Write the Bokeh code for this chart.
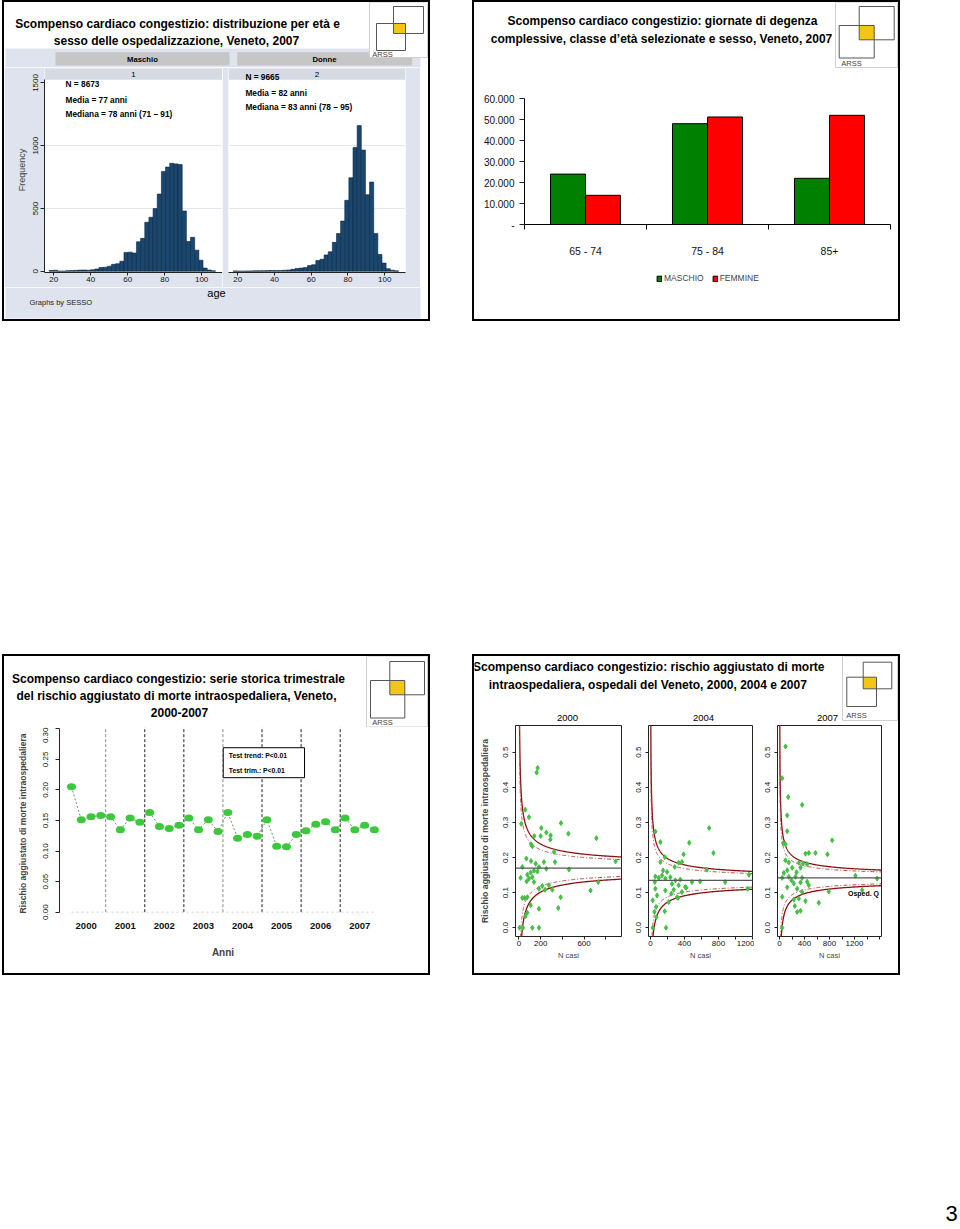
import numpy as np
from bokeh.plotting import figure
from bokeh.models import (Range1d, FixedTicker, Spacer, Legend, LegendItem, Span,
                          NumeralTickFormatter, Div)
from bokeh.layouts import column, row
from bokeh.embed import file_html
from bokeh.resources import INLINE
from bokeh.core.properties import value

SANS = "Liberation Sans"

# ======================= DATA =======================
# Slide 1 - age histogram by sex (age bins of 2.25 years from 17.5)
age_bin_start = 17.5
age_bin_width = 2.25
maschio_freq = [6, 8, 0, 0, 4, 5, 7, 9, 10, 8,
                12, 18, 30, 32, 40, 55, 60, 80, 150, 152,
                145, 235, 262, 390, 430, 500, 615, 795, 830, 860,
                855, 850, 480, 237, 270, 168, 88, 25, 10, 3]
donne_freq = [2, 0, 0, 1, 2, 3, 3, 4, 5, 6,
              5, 6, 8, 10, 15, 22, 25, 30, 45, 52,
              85, 95, 130, 155, 230, 300, 400, 565, 745, 985,
              1160, 965, 610, 710, 300, 133, 65, 20, 8, 3]
maschio_stats = ["N = 8673", "Media = 77 anni", "Mediana = 78 anni (71 \u2013 91)"]
donne_stats = ["N = 9665", "Media = 82 anni", "Mediana = 83 anni (78 \u2013 95)"]
hist_x_ticks = [20, 40, 60, 80, 100]
hist_y_ticks = [0, 500, 1000, 1500]

# Slide 2 - hospital days by age class and sex
classi_eta = ["65 - 74", "75 - 84", "85+"]
giornate_maschio = [24000, 48000, 22000]
giornate_femmine = [13900, 51200, 52000]
giornate_ticks = [0, 10000, 20000, 30000, 40000, 50000, 60000]
giornate_tick_labels = ["-", "10.000", "20.000", "30.000", "40.000", "50.000", "60.000"]

# Slide 3 - quarterly adjusted in-hospital mortality risk 2000-2007
anni = ["2000", "2001", "2002", "2003", "2004", "2005", "2006", "2007"]
rischio_trimestrale = [0.205, 0.151, 0.156, 0.158, 0.156, 0.135, 0.154, 0.147,
                       0.163, 0.140, 0.137, 0.142, 0.154, 0.135, 0.151, 0.132,
                       0.163, 0.121, 0.127, 0.124, 0.151, 0.108, 0.107, 0.127,
                       0.133, 0.144, 0.148, 0.135, 0.154, 0.135, 0.142, 0.135]
rischio_ticks = [0.0, 0.05, 0.10, 0.15, 0.20, 0.25, 0.30]

# Slide 4 - funnel plots by hospital
casi_2000 = [172, 163, 58, 92, 21, 387, 206, 252, 292, 455, 713, 141, 200, 289, 111,
             123, 323, 68, 111, 31, 154, 230, 332, 184, 252, 138, 169, 108, 77, 123,
             15, 92, 71, 461, 891, 731, 276, 215, 240, 307, 184, 384, 31, 77, 660,
             108, 77, 61, 184, 362, 5, 37, 123, 184, 52, 138]
rischio_2000 = [0.455, 0.442, 0.336, 0.315, 0.296, 0.298, 0.284, 0.271, 0.263, 0.268,
                0.255, 0.261, 0.261, 0.251, 0.238, 0.232, 0.216, 0.197, 0.190, 0.173,
                0.182, 0.187, 0.187, 0.173, 0.168, 0.163, 0.160, 0.157, 0.151, 0.144,
                0.142, 0.140, 0.132, 0.166, 0.189, 0.130, 0.121, 0.119, 0.108, 0.108,
                0.111, 0.087, 0.085, 0.087, 0.106, 0.064, 0.043, 0.033, 0.054, 0.056,
                0.0, 0.0, 0.0, 0.0, 0.085, 0.130]
casi_2004 = [58, 690, 117, 456, 390, 741, 168, 117, 331, 370, 285, 148, 663, 58, 98,
             136, 175, 234, 292, 351, 585, 878, 253, 331, 409, 58, 175, 273, 370, 1143,
             78, 245, 323, 27, 66, 47, 168, 70, 27, 183, 312, 214, 421, 195, 488,
             1158, 51]
rischio_2004 = [0.274, 0.284, 0.244, 0.242, 0.209, 0.213, 0.201, 0.187, 0.185, 0.187,
                0.173, 0.163, 0.165, 0.146, 0.142, 0.149, 0.140, 0.144, 0.135, 0.137,
                0.132, 0.130, 0.125, 0.121, 0.116, 0.111, 0.106, 0.108, 0.102, 0.111,
                0.092, 0.097, 0.085, 0.078, 0.059, 0.045, 0.047, 0.030, 0.0, 0.0,
                0.087, 0.073, 0.114, 0.159, 0.130, 0.151, 0.130]
casi_2007 = [96, 43, 139, 363, 123, 123, 842, 59, 96, 416, 469, 576, 768, 96, 149,
             309, 378, 442, 203, 336, 69, 272, 1215, 1562, 43, 149, 256, 362, 442, 336,
             229, 469, 123, 282, 789, 362, 43, 229, 309, 416, 629, 245, 336, 282, 43,
             1322, 123, 192]
rischio_2007 = [0.516, 0.426, 0.372, 0.350, 0.320, 0.275, 0.249, 0.241, 0.238, 0.211,
                0.213, 0.213, 0.209, 0.192, 0.186, 0.185, 0.183, 0.181, 0.171, 0.171,
                0.156, 0.158, 0.148, 0.140, 0.142, 0.145, 0.145, 0.142, 0.131, 0.129,
                0.126, 0.121, 0.115, 0.111, 0.103, 0.102, 0.088, 0.080, 0.083, 0.076,
                0.071, 0.062, 0.048, 0.045, 0.0, 0.107, 0.164, 0.135]
media_2000 = 0.170
media_2004 = 0.135
media_2007 = 0.142
funnel_y_ticks = [0.0, 0.1, 0.2, 0.3, 0.4, 0.5]

# ======================= STYLE / HELPERS =======================
BG1 = "#dfe3ee"
STRIP_DARK = "#c6c6c6"
STRIP_LIGHT = "#d6dae3"
NAVY = "#1a476f"
TITLE_SIZE = "12px"


def deco(x0, y0, w, h):
    """Decoration figure whose ranges are page pixel coordinates."""
    p = figure(width=w, height=h, x_range=Range1d(x0, x0 + w),
               y_range=Range1d(y0 + h, y0), output_backend="svg",
               toolbar_location=None, min_border=0, x_axis_location=None,
               y_axis_location=None, title=None, outline_line_color=None,
               background_fill_color="white", border_fill_color="white")
    p.grid.visible = False
    return p


def bar(w, h):
    return Div(text="", width=w, height=h, margin=0,
               styles={"background-color": "black"})


def framed(content_rows, w=428, h=321):
    inner = column(*[row(c) for c in content_rows])
    return column(bar(w, 2),
                  row(bar(2, h - 4), inner, bar(2, h - 4)),
                  bar(w, 2))


def txt(p, xs, ys, texts, size, font=SANS, style="normal", align="center",
        color="black", baseline="middle"):
    p.text(x=xs, y=ys, text=texts, text_font=value(font), text_font_size=size,
           text_font_style=style, text_align=align, text_baseline=baseline,
           text_color=color)


def logo(p, box, a, b, arss):
    l, t, r, bt = box
    p.quad(left=[l], right=[r], top=[t], bottom=[bt], fill_color="white",
           line_color="#cfcfcf", line_width=1)
    p.quad(left=[max(a[0], b[0])], right=[min(a[2], b[2])], top=[max(a[1], b[1])],
           bottom=[min(a[3], b[3])], fill_color="#f3c613", line_color=None)
    for s in (a, b):
        p.quad(left=[s[0]], right=[s[2]], top=[s[1]], bottom=[s[3]], fill_color=None,
               line_color="#555555", line_width=1)
    txt(p, [arss[0]], [arss[1]], ["ARSS"], "7.5px", color="#444444")


def style_axis(ax, size="8px", font=SANS):
    ax.axis_line_color = "#222222"
    ax.major_tick_line_color = "#222222"
    ax.minor_tick_line_color = None
    ax.major_tick_in = 0
    ax.major_label_text_font = font
    ax.major_label_text_font_size = size
    ax.major_label_text_color = "#111111"


# ======================= SLIDE 1 =======================
s1_head = deco(4, 2, 424, 65)
s1_head.quad(left=[5], right=[420], top=[48], bottom=[67], fill_color=BG1, line_color=None)
s1_head.quad(left=[55, 236.7], right=[229, 411.7], top=[51.7, 51.7], bottom=[65, 65],
             fill_color=STRIP_DARK, line_color=None)
txt(s1_head, [142, 324], [58.5, 58.5], ["Maschio", "Donne"], "7.7px", style="bold")
txt(s1_head, [177, 176], [23.3, 40.5],
    ["Scompenso cardiaco congestizio: distribuzione per et\u00e0 e",
     "sesso delle ospedalizzazione, Veneto, 2007"], TITLE_SIZE, style="bold")
logo(s1_head, (369, 2, 427, 57), (393, 6, 423, 33), (376, 23, 405, 50), (382, 54))


def hist_panel(width, mbl, mbr, freq, stats, stats_x, stats_y, strip_label, show_y):
    p = figure(width=width, height=220, x_range=Range1d(15, 111.3),
               y_range=Range1d(-10, 1623), min_border_left=mbl, min_border_right=mbr,
               min_border_top=0, min_border_bottom=15, output_backend="svg",
               toolbar_location=None, title=None, border_fill_color=BG1,
               background_fill_color="white", outline_line_color=None,
               y_axis_location="left" if show_y else None)
    edges = age_bin_start + age_bin_width * np.arange(len(freq) + 1)
    p.quad(left=edges[:-1], right=edges[1:], bottom=0, top=freq, fill_color=NAVY,
           line_color="#0b2640", line_width=0.6)
    p.quad(left=[15], right=[111.3], bottom=[1613], top=[1623], fill_color=BG1,
           line_color=None)
    p.quad(left=[15], right=[111.3], bottom=[1525], top=[1613], fill_color=STRIP_LIGHT,
           line_color=None)
    txt(p, [63.15], [1569], [strip_label], "8px")
    txt(p, [stats_x] * 3, stats_y, stats, "8.3px", style="bold", align="left")
    p.xgrid.visible = False
    p.ygrid.ticker = FixedTicker(ticks=[500, 1000])
    p.ygrid.grid_line_color = "#e2e7ee"
    p.xaxis.ticker = FixedTicker(ticks=hist_x_ticks)
    style_axis(p.xaxis)
    p.xaxis.major_tick_out = 3
    p.xaxis.major_label_standoff = 1
    if show_y:
        p.yaxis.ticker = FixedTicker(ticks=hist_y_ticks)
        style_axis(p.yaxis)
        p.yaxis.bounds = (-10, 1525)
        p.yaxis.major_tick_out = 4
        p.yaxis.major_label_standoff = 2
        p.yaxis.major_label_orientation = "vertical"
        p.yaxis.axis_label = "Frequency"
        p.yaxis.axis_label_text_font = SANS
        p.yaxis.axis_label_text_font_style = "normal"
        p.yaxis.axis_label_text_font_size = "9px"
        p.yaxis.axis_label_standoff = 4
    return p


h1_left = hist_panel(218, 40, 0, maschio_freq, maschio_stats, 26.4, [1488, 1368, 1254],
                     "1", True)
h1_right = hist_panel(198, 6, 15, donne_freq, donne_stats, 24.2, [1551, 1421, 1307],
                      "2", False)

s1_foot = deco(4, 287, 424, 32)
s1_foot.quad(left=[5], right=[420], top=[287], bottom=[318], fill_color=BG1,
             line_color=None)
txt(s1_foot, [216], [292.5], ["age"], "11px")
txt(s1_foot, [29], [302], ["Graphs by SESSO"], "7.5px", align="left", color="#222222")

slide1 = framed([s1_head, row(h1_left, h1_right, Spacer(width=8, height=220)), s1_foot])

# ======================= SLIDE 2 =======================
head2 = deco(474, 2, 424, 88)
txt(head2, [662, 661], [20.5, 38.5],
    ["Scompenso cardiaco congestizio: giornate di degenza",
     "complessive, classe d\u2019et\u00e0 selezionate e sesso, Veneto, 2007"],
    TITLE_SIZE, style="bold")
logo(head2, (835, 2, 897, 67), (858.7, 6, 893.7, 39.3), (838.7, 25, 873.7, 57.5),
     (851, 62.5))

chart2 = figure(width=424, height=170, x_range=Range1d(0, 3), y_range=Range1d(0, 60000),
                min_border_left=50, min_border_right=8, min_border_top=8,
                min_border_bottom=36, output_backend="svg", toolbar_location=None,
                title=None, outline_line_color=None)
pos2 = np.arange(len(classi_eta)) + 0.5
chart2.vbar(x=pos2 - 0.1435, top=giornate_maschio, width=0.287, fill_color="#008000",
            line_color="black", line_width=1)
chart2.vbar(x=pos2 + 0.1435, top=giornate_femmine, width=0.287, fill_color="#ff0000",
            line_color="black", line_width=1)
chart2.grid.visible = False
chart2.yaxis.ticker = FixedTicker(ticks=giornate_ticks)
chart2.yaxis.major_label_overrides = dict(zip(giornate_ticks, giornate_tick_labels))
style_axis(chart2.yaxis, size="10px")
chart2.yaxis.axis_line_color = "black"
chart2.yaxis.major_tick_out = 5
chart2.yaxis.major_label_standoff = 5
chart2.xaxis.ticker = FixedTicker(ticks=list(pos2),
                                  minor_ticks=list(range(len(classi_eta) + 1)))
chart2.xaxis.major_label_overrides = dict(zip(list(pos2), classi_eta))
style_axis(chart2.xaxis, size="10.5px")
chart2.xaxis.axis_line_color = "black"
chart2.xaxis.major_tick_line_color = None
chart2.xaxis.major_tick_out = 0
chart2.xaxis.minor_tick_line_color = "black"
chart2.xaxis.minor_tick_out = 5
chart2.xaxis.minor_tick_in = 0
chart2.xaxis.major_label_standoff = 15

foot2 = deco(474, 260, 424, 59)
# legend-only renderers, placed far outside the visible range
dm = foot2.vbar(x=[5000], top=[5000], bottom=[5000], width=1, fill_color="#008000",
                line_color="black")
df = foot2.vbar(x=[5000], top=[5000], bottom=[5000], width=1, fill_color="#ff0000",
                line_color="black")
leg2 = Legend(items=[LegendItem(label="MASCHIO", renderers=[dm]),
                     LegendItem(label="FEMMINE", renderers=[df])],
              orientation="horizontal", location=(182, 36), label_text_font=SANS,
              label_text_font_size="8.5px", glyph_width=6, glyph_height=7,
              label_standoff=2, spacing=8, padding=0, margin=0, label_height=10,
              border_line_color=None, background_fill_alpha=0)
foot2.add_layout(leg2)

slide2 = framed([head2, chart2, foot2])

# ======================= SLIDE 3 =======================
head3 = deco(4, 656, 424, 71)
txt(head3, [178, 176, 179], [678.3, 695.7, 711.7],
    ["Scompenso cardiaco congestizio: serie storica trimestrale",
     "del rischio aggiustato di morte intraospedaliera, Veneto,",
     "2000-2007"], TITLE_SIZE, style="bold")
logo(head3, (366, 656, 427, 726.5), (389.3, 661, 424, 694.3), (370, 680, 404.3, 717.5),
     (382, 722))

chart3 = figure(width=424, height=246, x_range=Range1d(-1.228, 32.24),
                y_range=Range1d(-0.012, 0.3021), min_border_left=55, min_border_right=42,
                min_border_top=0, min_border_bottom=54, output_backend="svg",
                toolbar_location=None, title=None, outline_line_color=None)
chart3.grid.visible = False
q3 = np.arange(len(rischio_trimestrale))
year_pos = np.arange(len(anni)) * 4 + 1.5
bounds3 = np.arange(1, len(anni)) * 4 - 0.5
bound_colors = ["#8a8a8a", "#222222", "#222222", "#8a8a8a", "#222222", "#222222", "#222222"]
chart3.segment(x0=bounds3, y0=0, x1=bounds3, y1=0.31, line_color=bound_colors,
               line_dash="3 2", line_width=1)
chart3.line(q3, np.zeros(len(q3)), line_color="#d0d0d0", line_dash="2 3", line_width=1)
chart3.line(q3, rischio_trimestrale, line_color="#6f946f", line_dash="2 2", line_width=1)
chart3.ellipse(x=q3, y=rischio_trimestrale, width=9, height=7, width_units="screen",
               height_units="screen", fill_color="#3cc83c", line_color=None)
chart3.quad(left=[15.53], right=[23.85], bottom=[0.220], top=[0.269], fill_color="white",
            line_color="black", line_width=1)
txt(chart3, [16.1, 16.1], [0.2563, 0.232], ["Test trend: P<0.01", "Test trim.:  P<0.01"],
    "6.8px", style="bold", align="left")
chart3.yaxis.ticker = FixedTicker(ticks=rischio_ticks)
chart3.yaxis.formatter = NumeralTickFormatter(format="0.00")
style_axis(chart3.yaxis, size="8px")
chart3.yaxis.bounds = (0, 0.30)
chart3.yaxis.major_tick_out = 4
chart3.yaxis.major_label_standoff = 7
chart3.yaxis.major_label_orientation = "vertical"
chart3.yaxis.axis_label = "Rischio aggiustato di morte intraospedaliera"
chart3.yaxis.axis_label_text_font = SANS
chart3.yaxis.axis_label_text_font_style = "bold"
chart3.yaxis.axis_label_text_font_size = "8.5px"
chart3.yaxis.axis_label_standoff = 13
chart3.xaxis.ticker = FixedTicker(ticks=list(year_pos))
chart3.xaxis.major_label_overrides = dict(zip(list(year_pos), anni))
style_axis(chart3.xaxis, size="9.5px")
chart3.xaxis.major_label_text_font_style = "bold"
chart3.xaxis.axis_line_color = None
chart3.xaxis.major_tick_line_color = None
chart3.xaxis.major_tick_out = 0
chart3.xaxis.major_label_standoff = 3
chart3.xaxis.axis_label = "Anni"
chart3.xaxis.axis_label_text_font = SANS
chart3.xaxis.axis_label_text_font_style = "bold"
chart3.xaxis.axis_label_text_font_size = "10px"
chart3.xaxis.axis_label_standoff = 15

slide3 = framed([head3, chart3])

# ======================= SLIDE 4 =======================
head4 = deco(474, 656, 424, 65)
txt(head4, [648.3, 647.3], [666.7, 684.3],
    ["Scompenso cardiaco congestizio: rischio aggiustato di morte",
     "intraospedaliera, ospedali del Veneto, 2000, 2004 e 2007"], TITLE_SIZE, style="bold")
txt(head4, [567, 703, 827], [717, 717, 717], ["2000", "2004", "2007"], "9.5px")
logo(head4, (842, 656, 897, 720), (862.7, 661.7, 891.3, 688.3), (846.3, 676.7, 876, 706),
     (856, 715))


def funnel(width, mbl, mbr, xr, ticks, labelled, casi, rischio, media, ylabel):
    p = figure(width=width, height=252, x_range=Range1d(*xr),
               y_range=Range1d(-0.025, 0.576), min_border_left=mbl, min_border_right=mbr,
               min_border_top=4, min_border_bottom=37, output_backend="svg",
               toolbar_location=None, title=None, outline_line_color="#222222")
    p.grid.visible = False
    n = np.geomspace(1, xr[1], 400)
    sd = np.sqrt(media * (1 - media) / n)
    for z, col, dash, lw in ((2.576, "#8b1010", "solid", 1.3),
                             (1.96, "#b04848", "4 2 1 2", 1.0)):
        p.line(n, media + z * sd, line_color=col, line_dash=dash, line_width=lw)
        p.line(n, media - z * sd, line_color=col, line_dash=dash, line_width=lw)
    p.add_layout(Span(location=media, dimension="width", line_color="#555555",
                      line_width=1.2))
    p.scatter(casi, rischio, marker="diamond", size=5, fill_color="#44c044",
              line_color="#44c044")
    p.xaxis.ticker = FixedTicker(ticks=ticks)
    p.xaxis.major_label_overrides = {t: (str(t) if t in labelled else "") for t in ticks}
    style_axis(p.xaxis, size="8px")
    p.xaxis.axis_line_color = None
    p.xaxis.major_tick_out = 3
    p.xaxis.major_label_standoff = 1
    p.xaxis.axis_label = "N casi"
    p.xaxis.axis_label_text_font = SANS
    p.xaxis.axis_label_text_font_style = "normal"
    p.xaxis.axis_label_text_font_size = "7.5px"
    p.xaxis.axis_label_standoff = 2
    p.yaxis.ticker = FixedTicker(ticks=funnel_y_ticks)
    p.yaxis.formatter = NumeralTickFormatter(format="0.0")
    style_axis(p.yaxis, size="8px")
    p.yaxis.axis_line_color = None
    p.yaxis.major_tick_out = 3
    p.yaxis.major_label_standoff = 4
    p.yaxis.major_label_orientation = "vertical"
    if ylabel:
        p.yaxis.axis_label = "Rischio aggiustato di morte intraospedaliera"
        p.yaxis.axis_label_text_font = SANS
        p.yaxis.axis_label_text_font_style = "bold"
        p.yaxis.axis_label_text_font_size = "8.7px"
        p.yaxis.axis_label_standoff = 11
    return p


f1 = funnel(150, 41, 3, (-32, 945), [0, 200, 400, 600, 800], [0, 200, 600],
            casi_2000, rischio_2000, media_2000, True)
f2 = funnel(130, 24, 2, (-23, 1200), [0, 200, 400, 600, 800, 1000, 1200],
            [0, 400, 800, 1200], casi_2004, rischio_2004, media_2004, False)
f3 = funnel(130, 23, 3, (-32, 1632), [0, 200, 400, 600, 800, 1000, 1200, 1400, 1600],
            [0, 400, 800, 1200], casi_2007, rischio_2007, media_2007, False)
txt(f3, [1344], [0.098], ["Osped. Q"], "7px", style="bold")

slide4 = framed([head4, row(f1, f2, f3, Spacer(width=14, height=252))])

# ======================= PAGE =======================
num = deco(900, 1179, 60, 50)
txt(num, [951], [1213], ["3"], "22px")

top = row(Spacer(width=2, height=321), slide1, Spacer(width=42, height=321), slide2)
bottom = row(Spacer(width=2, height=321), slide3, Spacer(width=42, height=321), slide4)
page = column(top, Spacer(width=960, height=333), bottom, Spacer(width=960, height=204),
              row(Spacer(width=900, height=50), num))

open("out.html", "w").write(file_html(page, INLINE))
